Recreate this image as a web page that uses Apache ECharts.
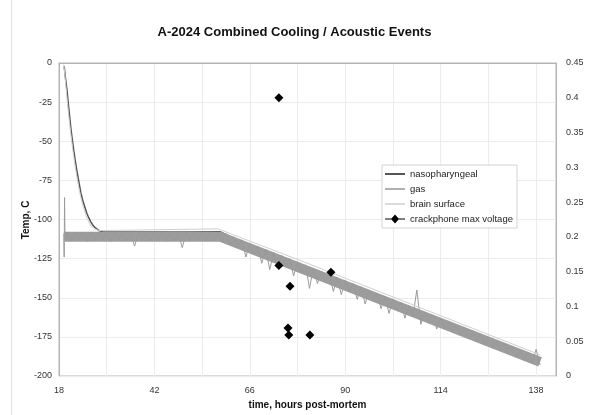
<!DOCTYPE html>
<html>
<head>
<meta charset="utf-8">
<script src="https://cdn.jsdelivr.net/npm/echarts@6/dist/echarts.min.js"></script>
<style>
  html, body { margin: 0; padding: 0; background: #fff; }
  #chart { width: 589px; height: 415px; }
</style>
</head>
<body>
<div id="chart"></div>
<script>
// nasopharyngeal probe
var nasoHours = [19.3, 19.6, 20, 20.5, 21, 21.5, 22, 22.5, 23, 23.5, 24, 24.5, 25, 25.5, 26, 26.5, 27, 28, 29, 30, 40, 50, 58.5, 70, 80, 90, 100, 110, 120, 130, 137];
var nasoTemps = [-2, -9, -17, -30, -42, -52, -61, -69, -76, -83, -88, -92, -96, -99, -101.5, -103.5, -105, -107, -107.8, -108, -108, -108, -107.8, -122, -132, -142, -152, -162, -172, -182, -189.5];

// gas probe: mean band of the readings
var gasBandHours = [19.5, 58.5, 139];
var gasBandTemps = [-111, -111, -191];

// gas probe: individual readings, a few at the start, then hourly from 20 h
var gasLeadHours = [19.2, 19.3, 19.4, 19.5];
var gasLeadTemps = [-109, -124, -86, -113];
var gasHourlyStart = 20;
var gasHourlyTemps = [
  -108.5, -113.5, -109, -113, -108.5, -114, -108.5, -113.5, -109, -113,
  -108.5, -114, -108.5, -113, -109, -113.5, -108.5, -117, -108.5, -113.5,
  -109, -113.5, -108.5, -113, -108.5, -114, -109, -113.5, -108.5, -118,
  -108.5, -113.5, -109, -113, -108.5, -113.5, -108.5, -113.5,
  -108.5, -114, -109, -116, -111, -118, -113, -124, -115, -122,
  -117, -128, -119, -132, -121, -131, -123, -130, -125, -136,
  -127, -134, -129, -144, -131, -141, -133, -140, -135, -146,
  -137, -148, -139, -146, -141, -151, -143, -154, -145, -152,
  -147, -157, -149, -160, -151, -158, -153, -163, -155, -162,
  -145, -167, -159, -166, -161, -170, -163, -170, -165, -172,
  -167, -174, -169, -176, -171, -178, -173, -180, -175, -182,
  -177, -184, -179, -186, -181, -188, -183, -190, -185, -192,
  -183, -193
];

// brain surface probe
var brainHours = [19.2, 19.5, 20, 20.5, 21, 21.5, 22, 22.5, 23, 23.5, 24, 25, 26, 27, 28, 30, 58, 80, 100, 120, 139];
var brainTemps = [-1, -8, -22, -35, -46, -56, -65, -73, -80, -86, -91, -99, -104, -106, -107, -107, -106, -127.5, -147.5, -167.5, -186.5];

// crackphone max voltage (right axis)
var crackHours = [73.3, 73.3, 75.6, 75.8, 76.1, 81.1, 86.4];
var crackVolts = [0.40, 0.159, 0.069, 0.059, 0.129, 0.059, 0.149];

var xTickLabels = [18, 42, 66, 90, 114, 138];

function pairs(xs, ys) {
  return xs.map(function (x, i) { return [x, ys[i]]; });
}

var gasData = pairs(gasLeadHours, gasLeadTemps).concat(
  gasHourlyTemps.map(function (t, i) { return [gasHourlyStart + i, t]; })
);

var lineIcon = 'path://M0,0h20v2h-20z';
var diamondIcon = 'path://M0,4.4h7v1.2h-7z M10,0.5L14,5L10,9.5L6,5z M13,4.4h7v1.2h-7z';

var chart = echarts.init(document.getElementById('chart'));
chart.setOption({
  animation: false,
  backgroundColor: '#fff',
  textStyle: { fontFamily: 'Arial, "Liberation Sans", sans-serif' },
  title: {
    text: 'A-2024 Combined Cooling / Acoustic Events',
    left: 'center',
    top: 21,
    textStyle: { fontSize: 13, fontWeight: 'bold', color: '#111' }
  },
  grid: {
    left: 59, right: 33, top: 63, bottom: 37,
    show: true, borderColor: '#b4b4b4', borderWidth: 1
  },
  legend: {
    orient: 'vertical',
    left: 382,
    top: 165,
    padding: [4, 4, 4, 3],
    itemGap: 5,
    itemWidth: 20,
    itemHeight: 10,
    backgroundColor: '#fff',
    borderColor: '#d4d4d4',
    borderWidth: 1,
    borderRadius: 0,
    textStyle: { fontSize: 9.5, color: '#222' },
    data: [
      { name: 'nasopharyngeal', icon: lineIcon },
      { name: 'gas', icon: lineIcon },
      { name: 'brain surface', icon: lineIcon },
      { name: 'crackphone max voltage', icon: diamondIcon }
    ]
  },
  xAxis: {
    type: 'value',
    min: 18,
    max: 143,
    interval: 12,
    name: 'time, hours post-mortem',
    nameLocation: 'middle',
    nameGap: 24,
    nameTextStyle: { fontSize: 10, fontWeight: 'bold', color: '#111' },
    axisLine: { lineStyle: { color: '#b4b4b4' } },
    axisTick: { show: false },
    axisLabel: {
      fontSize: 9, color: '#333', margin: 10,
      formatter: function (v) { return xTickLabels.indexOf(v) >= 0 ? String(v) : ''; }
    },
    splitLine: { lineStyle: { color: '#ececec' } }
  },
  yAxis: [
    {
      type: 'value',
      min: -200,
      max: 0,
      interval: 25,
      axisLine: { show: true, lineStyle: { color: '#b4b4b4' } },
      axisTick: { show: false },
      axisLabel: { fontSize: 9, color: '#333', margin: 7 },
      splitLine: { lineStyle: { color: '#ececec' } }
    },
    {
      type: 'value',
      min: 0,
      max: 0.45,
      interval: 0.05,
      position: 'right',
      axisLine: { show: true, lineStyle: { color: '#b4b4b4' } },
      axisTick: { show: false },
      axisLabel: {
        fontSize: 9, color: '#333', margin: 10,
        formatter: function (v) { return String(Math.round(v * 100) / 100); }
      },
      splitLine: { show: false }
    }
  ],
  series: [
    {
      name: 'nasopharyngeal',
      type: 'line',
      symbol: 'none',
      color: '#555',
      lineStyle: { width: 1.5, color: '#555' },
      data: pairs(nasoHours, nasoTemps),
      z: 2
    },
    {
      name: 'gas',
      type: 'line',
      symbol: 'none',
      color: '#b0b0b0',
      lineStyle: { width: 10, color: '#9d9d9d', cap: 'butt' },
      data: pairs(gasBandHours, gasBandTemps),
      z: 3
    },
    {
      name: 'gas',
      type: 'line',
      symbol: 'none',
      color: '#b0b0b0',
      lineStyle: { width: 1, color: '#9a9a9a' },
      data: gasData,
      z: 3
    },
    {
      name: 'brain surface',
      type: 'line',
      symbol: 'none',
      color: '#dcdcdc',
      lineStyle: { width: 1, color: '#cfcfcf' },
      data: pairs(brainHours, brainTemps),
      z: 4
    },
    {
      name: 'crackphone max voltage',
      type: 'scatter',
      yAxisIndex: 1,
      symbol: 'diamond',
      symbolSize: 9,
      color: '#000',
      itemStyle: { color: '#000', opacity: 1 },
      data: pairs(crackHours, crackVolts),
      z: 5
    }
  ],
  graphic: [
    { type: 'line', shape: { x1: 11.5, y1: 0, x2: 11.5, y2: 415 }, style: { stroke: '#e2e2e2', lineWidth: 1 } },
    {
      type: 'text', x: 26, y: 220, rotation: Math.PI / 2,
      style: {
        text: 'Temp, C', fill: '#111', font: 'bold 10px Arial, "Liberation Sans", sans-serif',
        align: 'center', verticalAlign: 'middle'
      }
    }
  ]
});
</script>
</body>
</html>
